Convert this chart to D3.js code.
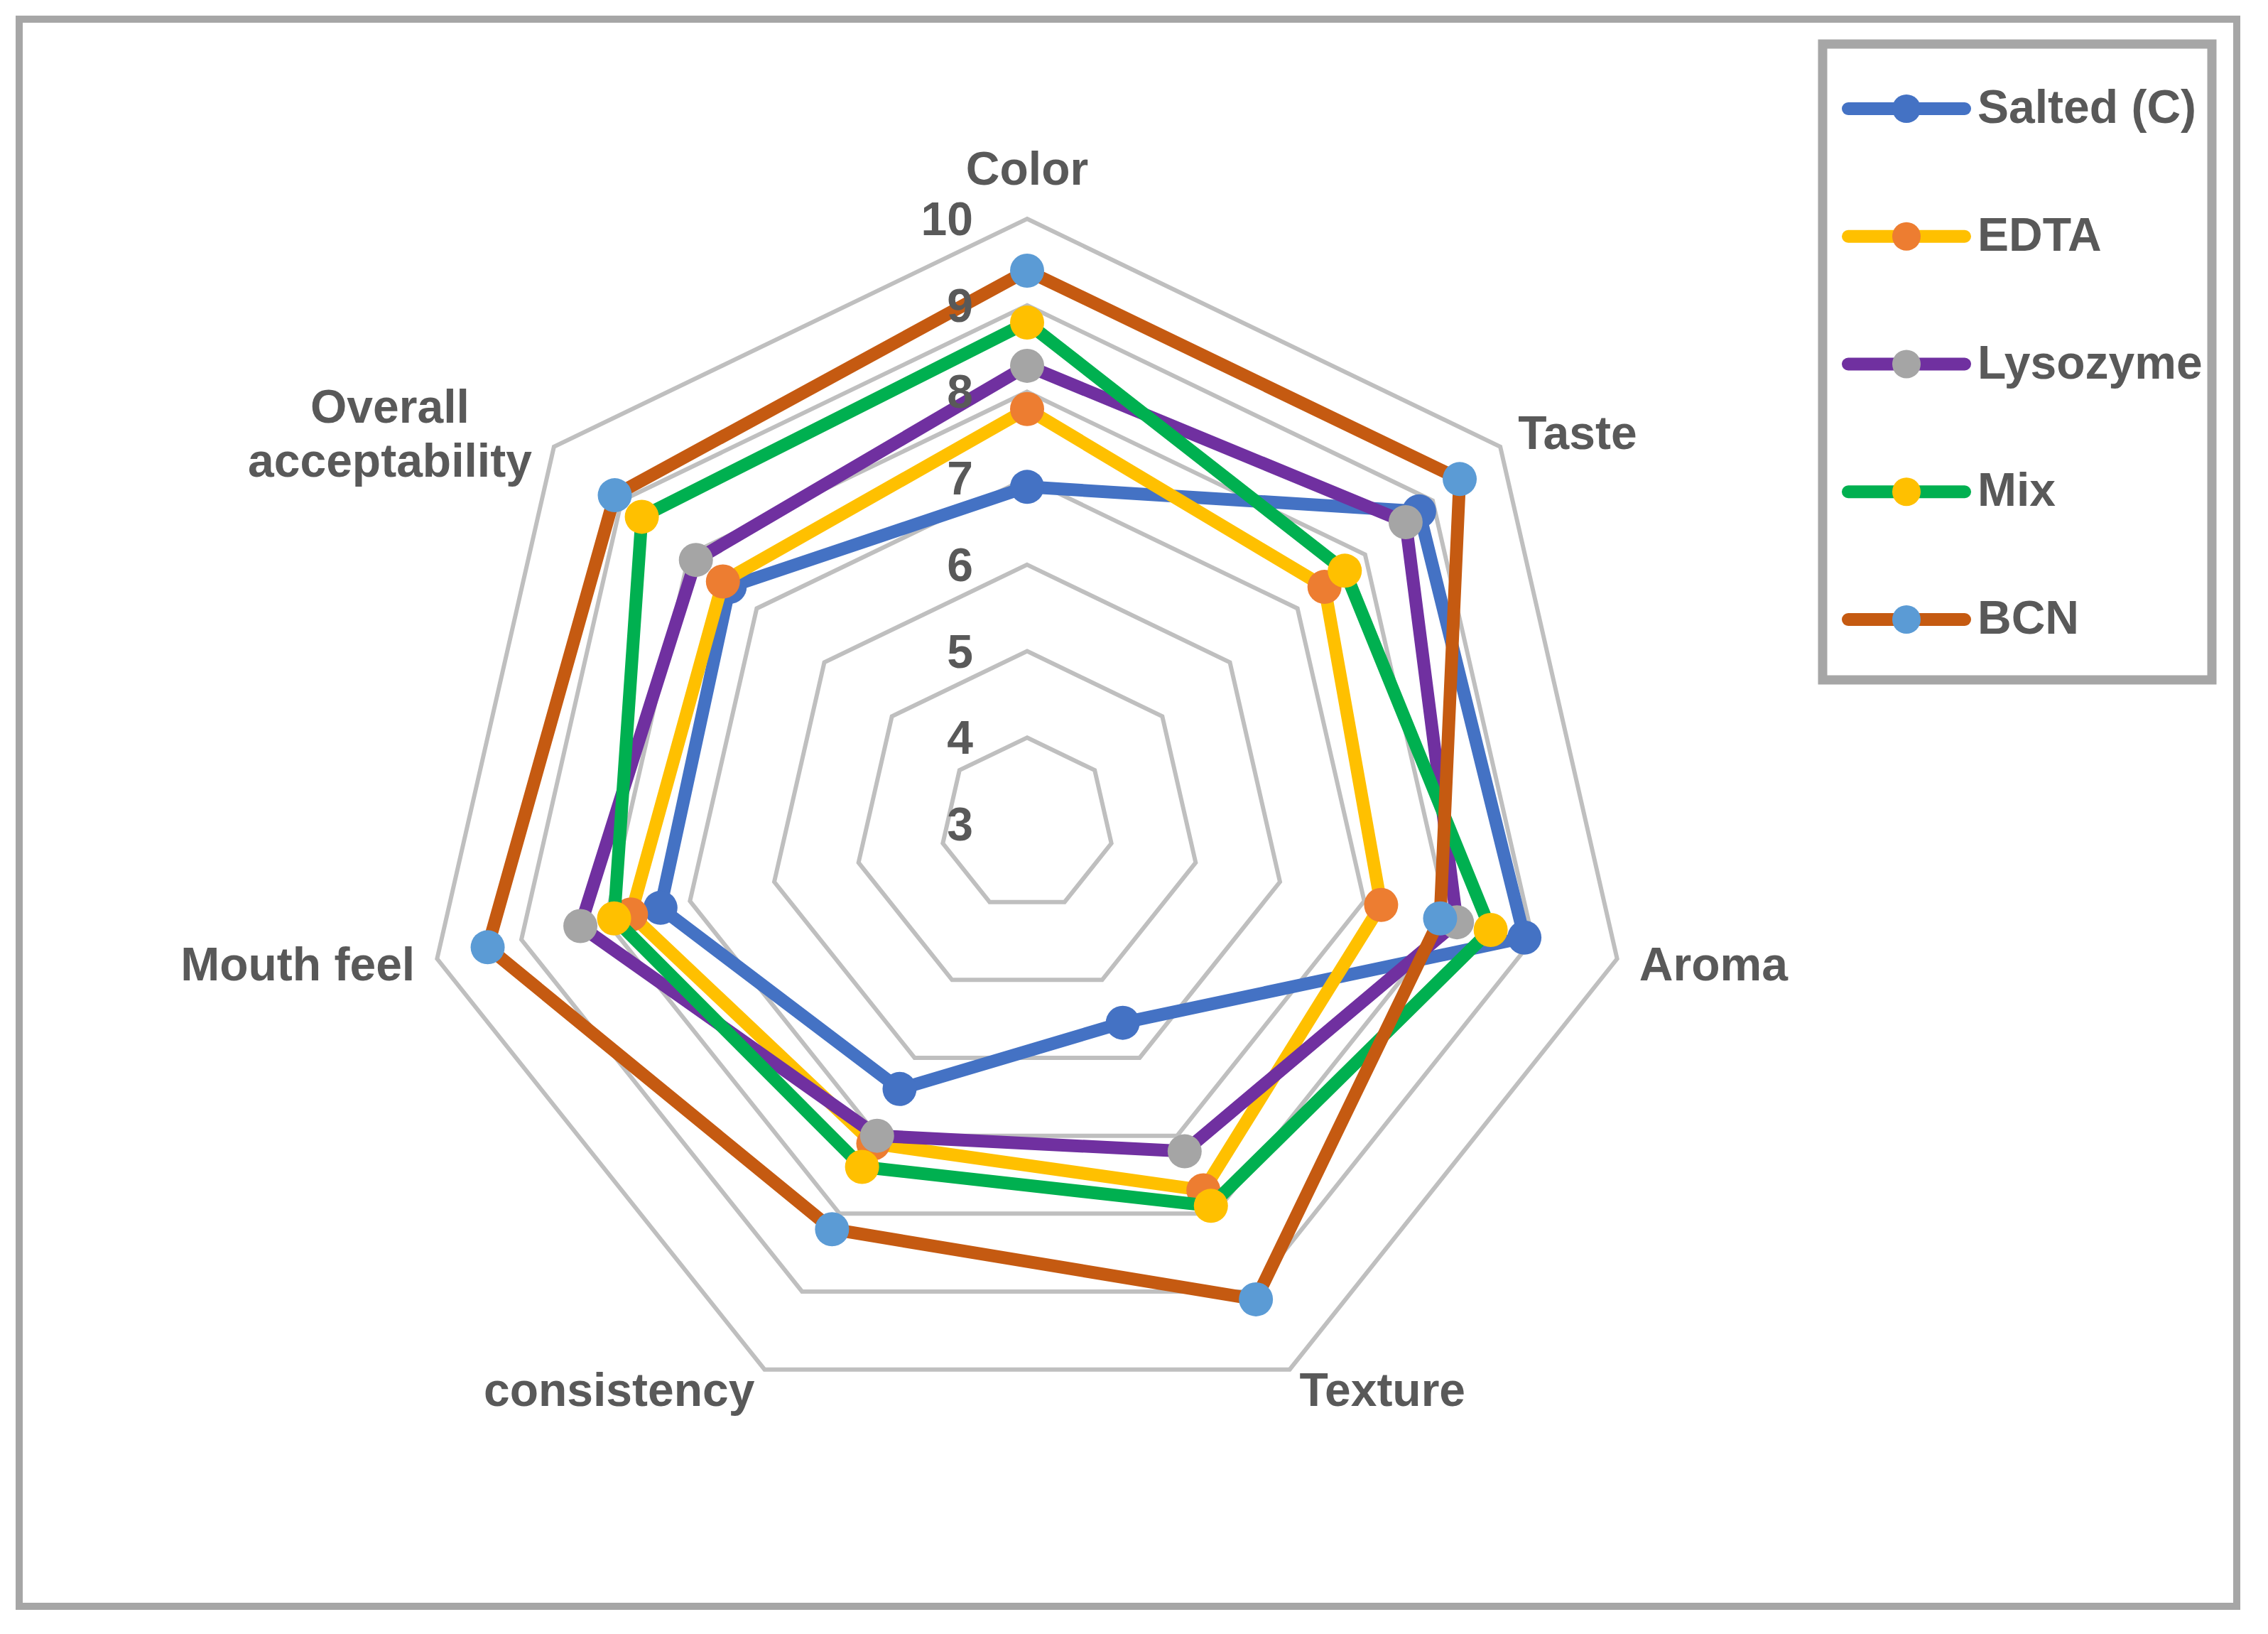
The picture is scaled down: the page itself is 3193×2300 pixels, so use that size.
<!DOCTYPE html>
<html><head><meta charset="utf-8">
<script src="https://cdn.jsdelivr.net/npm/d3@7"></script>
<style>
html,body{margin:0;padding:0;background:#fff;}
svg{display:block;}
text{font-family:"Liberation Sans",Arial,sans-serif;font-weight:bold;fill:#595959;}
</style>
</head><body>
<svg id="chart" width="3193" height="2300"></svg>
<script>
// ---- data ----
const categories = ["Color", "Taste", "Aroma", "Texture", "consistency", "Mouth feel", "Overall acceptability"];
const seriesNames = ["Salted (C)", "EDTA", "Lysozyme", "Mix", "BCN"];
const salted   = [6.9, 8.8, 8.9, 5.55, 6.4, 7.35, 7.4];
const edta     = [7.8, 7.4, 7.2, 7.7, 7.1, 7.7, 7.5];
const lysozyme = [8.3, 8.6, 8.1, 7.2, 7.0, 8.3, 7.9];
const mix      = [8.8, 7.7, 8.5, 7.9, 7.4, 7.9, 8.7];
const bcn      = [9.4, 9.4, 7.9, 9.1, 8.2, 9.4, 9.1];
const tickValues = [3, 4, 5, 6, 7, 8, 9, 10];
const lineColors   = ["#4472C4", "#FFC000", "#7030A0", "#00B050", "#C55A11"];
const markerColors = ["#4472C4", "#ED7D31", "#A5A5A5", "#FFC000", "#5B9BD5"];

const seriesValues = [salted, edta, lysozyme, mix, bcn];
const series = seriesNames.map((name, i) => ({name, values: seriesValues[i], line: lineColors[i], marker: markerColors[i]}));

// ---- layout ----
const cx = 1446, cy = 1160, R = 852;
const FS = "66px";
const svg = d3.select("#chart");

// chart area frame
svg.append("rect").attr("x", 27).attr("y", 27).attr("width", 3149 - 27).attr("height", 2261 - 27)
  .attr("fill", "#fff").attr("stroke", "#A6A6A6").attr("stroke-width", 10);

const r = d3.scaleLinear().domain([3, 10]).range([0, R]);
const n = categories.length;
const angle = d3.scalePoint().domain(d3.range(n)).range([0, 2 * Math.PI * (n - 1) / n]);

const g = svg.append("g").attr("transform", `translate(${cx},${cy})`);

// grid rings
const ringLine = d3.lineRadial().angle((d, i) => angle(i)).radius(d => r(d)).curve(d3.curveLinearClosed);
g.append("g").selectAll("path").data(tickValues.filter(v => v > 3)).join("path")
  .attr("d", v => ringLine(categories.map(() => v)))
  .attr("fill", "none").attr("stroke", "#BFBFBF").attr("stroke-width", 6).attr("stroke-linejoin", "miter");

// series
const sLine = d3.lineRadial().angle((d, i) => angle(i)).radius(d => r(d)).curve(d3.curveLinearClosed);
series.forEach(s => {
  const sg = g.append("g");
  sg.append("path").attr("d", sLine(s.values)).attr("fill", "none")
    .attr("stroke", s.line).attr("stroke-width", 18).attr("stroke-linejoin", "round").attr("stroke-linecap", "round");
  sg.selectAll("circle").data(s.values).join("circle")
    .attr("cx", (d, i) => d3.pointRadial(angle(i), r(d))[0])
    .attr("cy", (d, i) => d3.pointRadial(angle(i), r(d))[1])
    .attr("r", 24).attr("fill", s.marker);
});

// tick labels
g.append("g").selectAll("text").data(tickValues).join("text")
  .attr("x", -76).attr("y", v => -r(v))
  .attr("text-anchor", "end").attr("dominant-baseline", "central")
  .style("font-size", FS).text(v => v);

// category labels
const labG = g.append("g");
categories.forEach((c, i) => {
  const a = angle(i);
  const ux = Math.sin(a);
  if (Math.abs(ux) < 0.01) {
    const p = d3.pointRadial(a, R + 48);
    labG.append("text").attr("x", p[0]).attr("y", p[1]).attr("text-anchor", "middle")
      .style("font-size", FS).text(c);
    return;
  }
  const p = d3.pointRadial(a, R + 32);
  const anchor = ux > 0 ? "start" : "end";
  if (c === "Overall acceptability") {
    const lines = c.split(" ");
    const t = labG.append("text").attr("text-anchor", "middle").style("font-size", FS);
    const spans = lines.map((w, k) => t.append("tspan").attr("y", p[1] + 1 + (k - (lines.length - 1) / 2) * 76)
      .attr("dominant-baseline", "central").text(w));
    let maxW = 0;
    spans.forEach(sp => { maxW = Math.max(maxW, sp.node().getComputedTextLength()); });
    const xc = ux > 0 ? p[0] + maxW / 2 : p[0] - 6 - maxW / 2;
    spans.forEach(sp => sp.attr("x", xc));
  } else {
    labG.append("text").attr("x", p[0]).attr("y", p[1]).attr("text-anchor", anchor)
      .attr("dominant-baseline", "central").style("font-size", FS).text(c);
  }
});

// legend
const lg = svg.append("g");
lg.append("rect").attr("x", 2566).attr("y", 62).attr("width", 3114 - 2566).attr("height", 957 - 62)
  .attr("fill", "#fff").attr("stroke", "#A6A6A6").attr("stroke-width", 13);
const legY = d3.scalePoint().domain(seriesNames).range([153, 872]);
series.forEach(s => {
  const y = legY(s.name);
  lg.append("line").attr("x1", 2602).attr("x2", 2766).attr("y1", y).attr("y2", y)
    .attr("stroke", s.line).attr("stroke-width", 18).attr("stroke-linecap", "round");
  lg.append("circle").attr("cx", 2684).attr("cy", y).attr("r", 20).attr("fill", s.marker);
  lg.append("text").attr("x", 2784).attr("y", y - 3).attr("dominant-baseline", "central")
    .style("font-size", FS).text(s.name);
});
</script>
</body></html>
